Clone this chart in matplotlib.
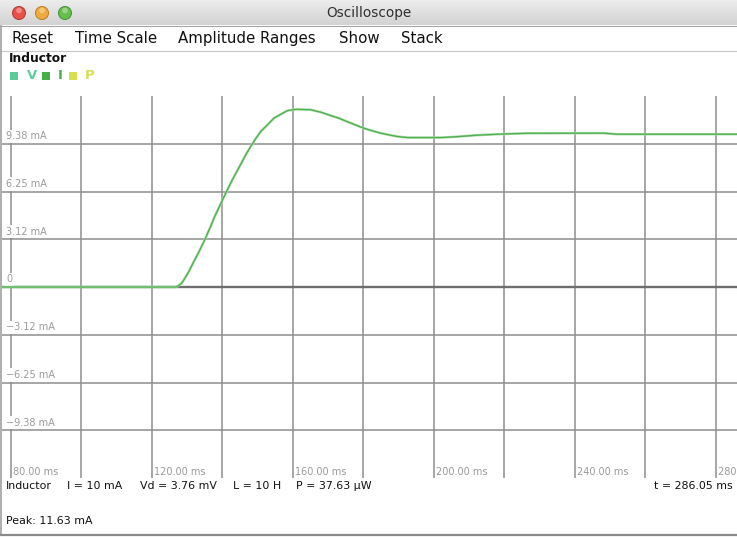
import numpy as np
import matplotlib
matplotlib.use("Agg")
import matplotlib.pyplot as plt
from matplotlib.patches import Rectangle, Circle
from matplotlib import transforms

plt.rcParams['font.family'] = ['DejaVu Sans']

# ---- data -------------------------------------------------------------
t_ms = [77.6, 100.0, 120.0, 126.8, 127.3, 128.4, 129.2, 130.6, 132.0, 133.5,
        135.3, 136.8, 137.7, 139.9, 141.5, 142.9, 145.2, 146.7, 148.1, 149.5,
        150.9, 152.8, 154.7, 156.6, 158.5, 161.0, 165.1, 168.0, 170.8, 173.2,
        175.5, 177.9, 180.2, 182.6, 185.0, 187.4, 189.7, 192.6, 202.0, 206.8,
        211.9, 218.2, 226.4, 248.0, 252.0, 286.05]
current_mA = [0.0, 0.0, 0.0, 0.0, 0.04, 0.22, 0.49, 1.03, 1.68, 2.34,
              3.21, 4.00, 4.52, 5.60, 6.37, 7.02, 8.00, 8.65, 9.20, 9.70,
              10.17, 10.60, 11.05, 11.30, 11.54, 11.63, 11.60, 11.44, 11.22, 11.04,
              10.82, 10.60, 10.39, 10.22, 10.07, 9.95, 9.85, 9.78, 9.78, 9.84,
              9.93, 10.00, 10.06, 10.07, 10.00, 10.00]

time_ticks = [80, 100, 120, 140, 160, 180, 200, 220, 240, 260, 280]
time_labels = {80: "80.00 ms", 120: "120.00 ms", 160: "160.00 ms",
               200: "200.00 ms", 240: "240.00 ms", 280: "280.00 ms"}
amp_ticks = [-9.375, -6.25, -3.125, 0, 3.125, 6.25, 9.375]
amp_labels = ["\u22129.38 mA", "\u22126.25 mA", "\u22123.12 mA", "0",
              "3.12 mA", "6.25 mA", "9.38 mA"]

info_items = ["Inductor", "I = 10 mA", "Vd = 3.76 mV", "L = 10 H", "P = 37.63 \u00b5W"]
info_x = [6, 67, 140, 233, 296]
time_now = "t = 286.05 ms"
peak_text = "Peak: 11.63 mA"
menu_items = ["Reset", "Time Scale", "Amplitude Ranges", "Show", "Stack"]
menu_x = [12, 75, 178, 339, 401]

W, H = 737, 537
fig = plt.figure(figsize=(W / 100, H / 100), dpi=100)
fig.patch.set_facecolor("white")

# ---- window chrome in pixel coordinates --------------------------------
bg = fig.add_axes([0, 0, 1, 1], zorder=0)
bg.set_xlim(0, W)
bg.set_ylim(H, 0)
bg.axis("off")

grad = np.linspace(0, 1, 64)[:, None]
bg.imshow(grad, extent=(0, W, 25, 0), aspect="auto",
          cmap=matplotlib.colors.LinearSegmentedColormap.from_list(
              "tb", ["#ededed", "#d2d2d2"]), zorder=1)
bg.plot([0, W], [25.5, 25.5], color="#a4a4a4", lw=0.8, zorder=2)
bg.text(369, 13, "Oscilloscope", ha="center", va="center",
        fontsize=9.8, color="#303030", zorder=3)

for cx, face, edge in [(19, "#e8504a", "#b03a34"),
                       (42, "#eeaa3c", "#b87e22"),
                       (65, "#68be4c", "#46913a")]:
    bg.add_patch(Circle((cx, 13), 6.5, facecolor=face, edgecolor=edge,
                        lw=0.7, zorder=3))
    bg.add_patch(Circle((cx, 10.5), 2.8, facecolor="white", alpha=0.35,
                        lw=0, zorder=4))

for label, x in zip(menu_items, menu_x):
    bg.text(x, 38.5, label, ha="left", va="center", fontsize=10.8,
            color="#111111", zorder=3)
bg.plot([0, W], [50.5, 50.5], color="#c8c8c8", lw=0.8, zorder=2)

bg.text(9, 59, "Inductor", ha="left", va="center", fontsize=8.8,
        fontweight="bold", color="#111111", zorder=3)
legend = [("V", "#5ccc96", 10, 27), ("I", "#46b046", 42, 58),
          ("P", "#d6e04e", 69, 85)]
for name, col, sx, tx in legend:
    bg.add_patch(Rectangle((sx, 71.5), 8, 8, facecolor=col, lw=0, zorder=3))
    bg.text(tx, 75.5, name, ha="left", va="center", fontsize=9.5,
            fontweight="bold", color=col, zorder=3)

bg.plot([1, 1], [26, 534], color="#a0a0a0", lw=1.2, zorder=2)
bg.plot([0, W], [534.5, 534.5], color="#8a8a8a", lw=1.6, zorder=2)

for text, x in zip(info_items, info_x):
    bg.text(x, 486, text, ha="left", va="center", fontsize=7.9,
            color="#111111", zorder=3)
bg.text(733, 486, time_now, ha="right", va="center", fontsize=7.9,
        color="#111111", zorder=3)
bg.text(6, 521, peak_text, ha="left", va="center", fontsize=7.9,
        color="#111111", zorder=3)

# ---- scope plot area ---------------------------------------------------
left, right, top, bottom = 2, 737, 96, 478
ax = fig.add_axes([left / W, (H - bottom) / H, (right - left) / W,
                   (bottom - top) / H], zorder=2)
ax.patch.set_alpha(0)
ax.set_xlim(286.05 - 208.5, 286.05)
ax.set_ylim(-12.5, 12.5)
for s in ax.spines.values():
    s.set_visible(False)
ax.set_xticks([])
ax.set_yticks([])

for t in time_ticks:
    ax.axvline(t, color="#8e8e8e", lw=1.1, zorder=1)
for a in amp_ticks:
    if a == 0:
        ax.axhline(a, color="#6e6e6e", lw=1.7, zorder=1)
    else:
        ax.axhline(a, color="#8e8e8e", lw=1.1, zorder=1)

ylab_tr = transforms.offset_copy(
    transforms.blended_transform_factory(ax.transAxes, ax.transData),
    fig=fig, x=0, y=2.5, units="dots")
for a, lab in zip(amp_ticks, amp_labels):
    ax.text(4 / 735, a, lab, transform=ylab_tr, ha="left", va="bottom",
            fontsize=7.0, color="#9a9a9a", zorder=2,
            bbox=dict(facecolor="white", edgecolor="none", pad=1.2))

# time labels sit beside their grid line; the last one runs off the edge
xlab_tr = transforms.offset_copy(
    transforms.blended_transform_factory(ax.transData, ax.transAxes),
    fig=fig, x=2, y=1, units="dots")
for t, lab in time_labels.items():
    ax.text(t, 0, lab, transform=xlab_tr, ha="left", va="bottom",
            fontsize=7.0, color="#9a9a9a", zorder=2, clip_on=True)

# current trace: soft halo plus core line
ax.plot(t_ms, current_mA, color="#a8dca8", lw=1.8, zorder=3,
        solid_joinstyle="round")
ax.plot(t_ms, current_mA, color="#4eae4e", lw=0.9, zorder=4,
        solid_joinstyle="round")

fig.savefig("out.png", dpi=100, facecolor="white")
